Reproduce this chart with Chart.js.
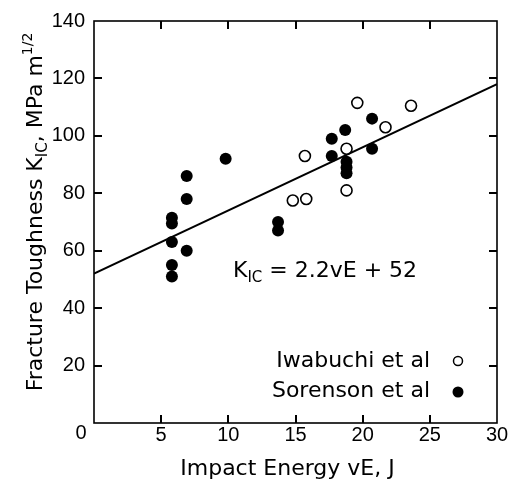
<!DOCTYPE html>
<html>
<head>
<meta charset="utf-8">
<script src="https://cdn.jsdelivr.net/npm/chart.js@4"></script>
<style>
  body { margin: 0; background: #fff; }
</style>
</head>
<body>
<canvas id="kicChart" width="516" height="483"></canvas>
<script>
// Sorenson et al (filled)
const sorensonX = [5.8, 5.8, 5.8, 5.8, 5.8, 6.9, 6.9, 6.9, 9.8, 13.7, 13.7, 17.7, 17.7, 18.7, 18.8, 18.8, 18.8, 20.7, 20.7];
const sorensonY = [71.5, 69.5, 63, 55, 51, 86, 78, 60, 92, 70, 67, 99, 93, 102, 91, 89, 87, 106, 95.5];
// Iwabuchi et al (open)
const iwabuchiX = [14.8, 15.8, 15.7, 18.8, 18.8, 19.6, 21.7, 23.6];
const iwabuchiY = [77.5, 78, 93, 95.5, 81, 111.5, 103, 110.5];
// fitted line K_IC = 2.2vE + 52
const fitX = [0, 30];
const fitY = [52, 118];

const xTicks = [0, 5, 10, 15, 20, 25, 30];
const yTicks = [0, 20, 40, 60, 80, 100, 120, 140];

const toPoints = (xs, ys) => xs.map((x, i) => ({ x: x, y: ys[i] }));

const TICK_FONT = '20px "Liberation Sans", Arial, sans-serif';
const TEXT_FONT = '"DejaVu Sans", sans-serif';

// draws frame, inward ticks, titles, equation and legend
const paperStyle = {
    id: 'paperStyle',
    afterDraw(chart) {
        const c = chart.ctx;
        const area = chart.chartArea;
        const xs = chart.scales.x;
        const ys = chart.scales.y;
        const L = area.left, R = area.right, T = area.top, B = area.bottom;
        c.save();
        c.strokeStyle = '#000';
        c.fillStyle = '#000';

        // frame
        c.lineWidth = 1.6;
        c.strokeRect(L, T, R - L, B - T);

        // inward ticks, drawn as small filled bars
        const len = 8;
        for (let i = 1; i < xTicks.length - 1; i++) {
            const px = Math.round(xs.getPixelForValue(xTicks[i]));
            c.fillRect(px - 1, B - len, 2, len);
            c.fillRect(px - 1, T, 2, len);
        }
        for (let i = 1; i < yTicks.length - 1; i++) {
            const py = Math.round(ys.getPixelForValue(yTicks[i]));
            c.fillRect(L, py - 1, len, 2);
            c.fillRect(R - len, py - 1, len, 2);
        }

        // corner zero
        c.font = TICK_FONT;
        c.textAlign = 'center';
        c.textBaseline = 'middle';
        c.fillText('0', xs.getPixelForValue(0) - 13, ys.getPixelForValue(0) + 10);

        // x title
        c.font = '22px ' + TEXT_FONT;
        c.textBaseline = 'alphabetic';
        c.fillText('Impact Energy vE, J', (L + R) / 2 - 8, 475);

        // y title with sub/superscripts
        const yParts = [
            { t: 'Fracture Toughness K', size: 22, dy: 0 },
            { t: 'IC', size: 15, dy: 5 },
            { t: ', MPa m', size: 22, dy: 0 },
            { t: '1/2', size: 14, dy: -10 }
        ];
        c.save();
        c.translate(42, 212);
        c.rotate(-Math.PI / 2);
        c.textAlign = 'left';
        let total = 0;
        yParts.forEach(p => { c.font = p.size + 'px ' + TEXT_FONT; total += c.measureText(p.t).width; });
        let cx = -total / 2;
        yParts.forEach(p => {
            c.font = p.size + 'px ' + TEXT_FONT;
            c.fillText(p.t, cx, p.dy);
            cx += c.measureText(p.t).width;
        });
        c.restore();

        // equation
        const eqParts = [
            { t: 'K', size: 22, dy: 0 },
            { t: 'IC', size: 15, dy: 5 },
            { t: ' = 2.2vE + 52', size: 22, dy: 0 }
        ];
        c.textAlign = 'left';
        let ex = 233;
        eqParts.forEach(p => {
            c.font = p.size + 'px ' + TEXT_FONT;
            c.fillText(p.t, ex, 277 + p.dy);
            ex += c.measureText(p.t).width;
        });

        // legend
        c.font = '22px ' + TEXT_FONT;
        c.textAlign = 'right';
        c.textBaseline = 'middle';
        c.fillText('Iwabuchi et al', 430, 361);
        c.fillText('Sorenson et al', 430, 391);
        c.lineWidth = 1.5;
        c.beginPath();
        c.arc(458, 361, 4.5, 0, Math.PI * 2);
        c.fillStyle = '#fff';
        c.fill();
        c.stroke();
        c.beginPath();
        c.arc(458, 392, 5.5, 0, Math.PI * 2);
        c.fillStyle = '#000';
        c.fill();

        c.restore();
    }
};

const chart = new Chart(document.getElementById('kicChart'), {
    type: 'scatter',
    data: {
        datasets: [{
            label: 'Iwabuchi et al',
            data: toPoints(iwabuchiX, iwabuchiY),
            backgroundColor: '#fff',
            borderColor: '#000',
            borderWidth: 1.6,
            pointRadius: 5.5,
            pointHoverRadius: 5.5
        },
        {
            label: 'Sorenson et al',
            data: toPoints(sorensonX, sorensonY),
            backgroundColor: '#000',
            borderColor: '#000',
            borderWidth: 0,
            pointRadius: 6,
            pointHoverRadius: 6
        },
        {
            label: 'fit',
            data: toPoints(fitX, fitY),
            type: 'line',
            borderColor: '#000',
            borderWidth: 2,
            pointRadius: 0,
            fill: false
        }]
    },
    options: {
        responsive: false,
        animation: false,
        devicePixelRatio: 1,
        layout: {
            padding: { left: 0, right: 19, top: 20, bottom: 0 }
        },
        plugins: {
            legend: { display: false },
            tooltip: { enabled: false }
        },
        scales: {
            x: {
                type: 'linear',
                min: 0,
                max: 30,
                afterFit: s => { s.height = 60; },
                afterBuildTicks: s => { s.ticks = xTicks.map(v => ({ value: v })); },
                grid: { display: false, drawTicks: false },
                border: { display: false },
                ticks: {
                    padding: 0,
                    color: '#000',
                    font: { family: '"Liberation Sans", Arial, sans-serif', size: 20 },
                    callback: v => (v === 0 ? '' : v)
                }
            },
            y: {
                type: 'linear',
                min: 0,
                max: 140,
                afterFit: s => { s.width = 94; },
                afterBuildTicks: s => { s.ticks = yTicks.map(v => ({ value: v })); },
                grid: { display: false, drawTicks: false },
                border: { display: false },
                ticks: {
                    padding: 9,
                    color: '#000',
                    font: { family: '"Liberation Sans", Arial, sans-serif', size: 20 },
                    callback: v => (v === 0 ? '' : v)
                }
            }
        }
    },
    plugins: [paperStyle]
});
</script>
</body>
</html>
